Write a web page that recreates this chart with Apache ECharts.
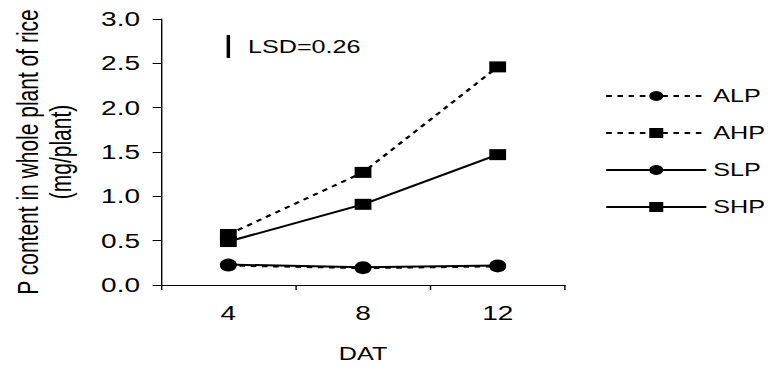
<!DOCTYPE html>
<html><head><meta charset="utf-8">
<script src="https://cdn.jsdelivr.net/npm/echarts@6/dist/echarts.min.js"></script>
<style>
html,body{margin:0;padding:0;background:#fff;overflow:hidden}
#chart{width:552px;height:369px;transform:scaleX(1.4);transform-origin:0 0}
</style>
</head><body><div id="chart"></div>
<script>
// Data
const categories = ['4', '8', '12'];
const seriesNames = ['ALP', 'AHP', 'SLP', 'SHP'];
const ALP = [0.22, 0.19, 0.21];
const AHP = [0.57, 1.27, 2.46];
const SLP = [0.23, 0.20, 0.22];
const SHP = [0.49, 0.91, 1.47];
const lsdValue = 0.26;
const lsdTop = 2.82;
const lsdLabel = 'LSD=0.26';

const font = 'Liberation Sans, Arial, sans-serif';
const chart = echarts.init(document.getElementById('chart'), null, {renderer: 'svg'});

function mk(name, data, dashed, symbol, size) {
  return {
    name, type: 'line', data,
    symbol, symbolSize: size, showSymbol: true,
    lineStyle: {color: '#000', width: 2, type: dashed ? [4, 4] : 'solid'},
    itemStyle: {color: '#000'},
    silent: true
  };
}

chart.setOption({
  animation: false,
  backgroundColor: '#fff',
  textStyle: {fontFamily: font, color: '#000'},
  grid: {left: 115, top: 19, right: 148.4, bottom: 84, containLabel: false, outerBoundsMode: 'none'},
  legend: {
    data: seriesNames,
    orient: 'vertical', left: 432, top: 87, padding: 0,
    itemWidth: 71.5, itemHeight: 12.5, itemGap: 19,
    textStyle: {fontSize: 18, color: '#000', fontFamily: font},
    selectedMode: false
  },
  xAxis: {
    type: 'category', data: categories, boundaryGap: true,
    name: 'DAT', nameLocation: 'middle', nameGap: 60,
    nameTextStyle: {fontSize: 18, color: '#000', fontFamily: font},
    axisLine: {lineStyle: {color: '#000', width: 1}},
    axisTick: {show: true, length: 5, inside: false, lineStyle: {color: '#000'}},
    axisLabel: {fontSize: 20, color: '#000', margin: 18, fontFamily: font}
  },
  yAxis: {
    type: 'value', min: 0, max: 3, interval: 0.5,
    name: 'P content in whole plant of rice\n(mg/plant)',
    nameLocation: 'middle', nameRotate: 90, nameGap: 59.5,
    nameTextStyle: {fontSize: 21, lineHeight: 24, color: '#000', fontFamily: font, align: 'center'},
    axisLine: {show: true, lineStyle: {color: '#000', width: 1}},
    axisTick: {show: true, length: 6, lineStyle: {color: '#000'}},
    splitLine: {show: false},
    axisLabel: {fontSize: 20, color: '#000', margin: 15, fontFamily: font,
      formatter: v => v.toFixed(1)}
  },
  series: [
    mk('ALP', ALP, true, 'circle', 12),
    mk('AHP', AHP, true, 'rect', [12, 11]),
    mk('SLP', SLP, false, 'circle', 12),
    mk('SHP', SHP, false, 'rect', [12, 11]),
    {
      name: 'LSD', type: 'line', silent: true,
      data: [[0, lsdTop], {value: [0, lsdTop - lsdValue / 2], label: {show: true}}, [0, lsdTop - lsdValue]],
      symbol: 'circle', symbolSize: 0, showSymbol: true,
      lineStyle: {color: '#000', width: 2.5},
      itemStyle: {color: '#000'},
      label: {show: false, position: 'right', distance: 14, formatter: lsdLabel,
        fontSize: 18, color: '#000', fontFamily: font}
    }
  ]
});
</script>
</body></html>
